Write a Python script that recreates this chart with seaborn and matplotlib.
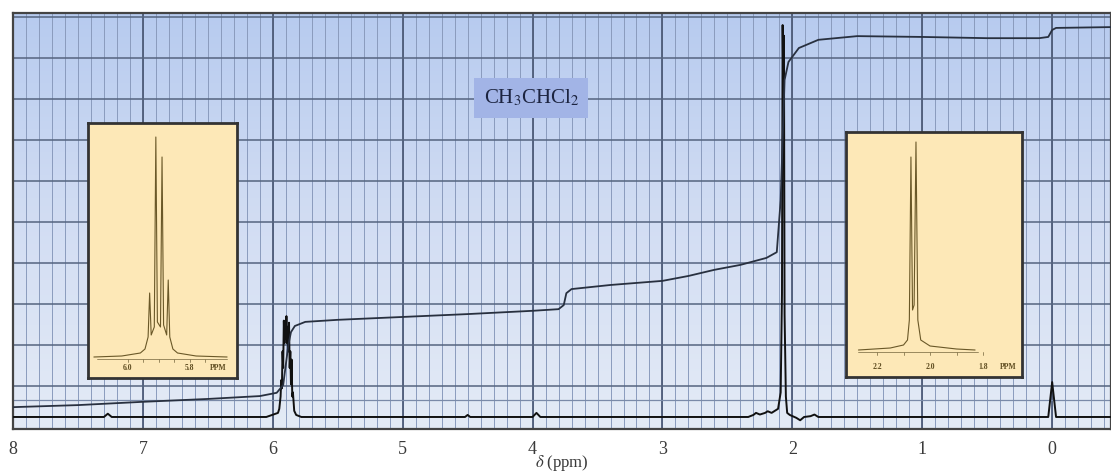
import numpy as np
import pandas as pd
import matplotlib.pyplot as plt
import seaborn as sns
from matplotlib.colors import LinearSegmentedColormap

# main spectrum trace (ppm, intensity in grid units)
spec_ppm = [8.0, 7.30, 7.27, 7.24, 6.05, 5.96, 5.95, 5.94, 5.935, 5.93, 5.925, 5.92,
            5.915, 5.91, 5.905, 5.90, 5.895, 5.89, 5.885, 5.88, 5.875, 5.87, 5.865,
            5.86, 5.855, 5.85, 5.845, 5.835, 5.82, 5.78, 4.52, 4.50, 4.48, 4.00, 3.97,
            3.94, 2.34, 2.30, 2.28, 2.25, 2.21, 2.19, 2.16, 2.11, 2.09, 2.08, 2.075,
            2.07, 2.065, 2.06, 2.05, 2.04, 2.02, 1.97, 1.94, 1.91, 1.86, 1.83, 1.80,
            0.03, 0.0, -0.03, -0.45]
spec_int = [0, 0, 0.08, 0, 0, 0.1, 0.2, 0.5, 0.9, 0.7, 1.6, 1.2,
            2.35, 1.8, 2.3, 1.9, 2.46, 1.8, 2.2, 1.6, 2.3, 1.2, 1.6,
            0.8, 1.4, 0.5, 0.6, 0.15, 0.05, 0, 0, 0.05, 0, 0, 0.1,
            0, 0, 0.05, 0.1, 0.06, 0.1, 0.14, 0.1, 0.2, 0.6, 3.0, 9.56,
            8.0, 9.3, 2.5, 0.5, 0.1, 0.05, -0.02, -0.08, 0, 0.02, 0.06, 0,
            0, 0.85, 0, 0]

# integral curve
integ_ppm = [8.0, 7.5, 7.0, 6.5, 6.1, 5.97, 5.92, 5.90, 5.88, 5.86, 5.83, 5.75, 5.5,
             5.0, 4.5, 4.0, 3.8, 3.76, 3.74, 3.70, 3.4, 3.0, 2.8, 2.6, 2.4, 2.2,
             2.12, 2.09, 2.07, 2.06, 2.03, 1.95, 1.8, 1.5, 1.0, 0.5, 0.1, 0.03,
             0.0, -0.03, -0.45]
integ_val = [0.24, 0.29, 0.37, 0.44, 0.51, 0.59, 0.78, 1.27, 1.76, 2.07, 2.22, 2.32, 2.37,
             2.44, 2.51, 2.59, 2.63, 2.73, 3.02, 3.12, 3.22, 3.32, 3.44, 3.59, 3.71, 3.88,
             4.02, 5.29, 7.24, 8.22, 8.66, 9.0, 9.2, 9.29, 9.27, 9.24, 9.24, 9.27,
             9.44, 9.49, 9.51]

# expanded quartet (inset left)
q_ppm = [6.11, 6.02, 5.96, 5.945, 5.935, 5.93, 5.925, 5.915, 5.91, 5.905, 5.895, 5.89,
         5.885, 5.875, 5.87, 5.865, 5.855, 5.84, 5.78, 5.68]
q_int = [0, 1, 4, 8, 20, 64, 22, 30, 220, 35, 30, 200, 32, 22, 77, 20, 8, 4, 1, 0]
q_ticks = [6.0, 5.95, 5.9, 5.85, 5.8, 5.75]
q_labels = ["6.0", "5.8", "PPM"]
q_label_pos = [6.0, 5.8, 5.71]

# expanded doublet (inset right)
d_ppm = [2.27, 2.15, 2.10, 2.085, 2.078, 2.072, 2.066, 2.060, 2.053, 2.046, 2.035,
         2.0, 1.90, 1.83]
d_int = [0, 2, 5, 10, 30, 193, 40, 45, 208, 30, 10, 4, 1, 0]
d_ticks = [2.2, 2.1, 2.0, 1.9, 1.8]
d_labels = ["2.2", "2.0", "1.8", "PPM"]
d_label_pos = [2.2, 2.0, 1.8, 1.706]

x_ticks = [8, 7, 6, 5, 4, 3, 2, 1, 0]

sns.set_style("white")
plt.rcParams['font.family'] = ['Liberation Serif', 'DejaVu Serif']
plt.rcParams['mathtext.fontset'] = 'stix'

fig = plt.figure(figsize=(11.11, 4.74), dpi=100)
ax = fig.add_axes([13 / 1111, 45 / 474, 1098 / 1111, 416 / 474])

# graph-paper background
grad = np.linspace(0, 1, 256).reshape(-1, 1)
bg = LinearSegmentedColormap.from_list("bg", ["#b7cbef", "#d2ddf3", "#e4ebf6"])
ax.imshow(grad, cmap=bg, aspect="auto", extent=[0, 1, 0, 1],
          transform=ax.transAxes, zorder=0)

ax.set_xlim(8, -0.453)
ax.set_ylim(-0.293, 9.854)

for v in np.arange(-0.4, 8.01, 0.1):
    ax.axvline(v, color="#8a9bbd", lw=0.7, zorder=1)
for v in x_ticks:
    ax.axvline(v, color="#4d5b78", lw=1.3, zorder=1)
for h in np.arange(0.75, 9.8, 1.0):
    ax.axhline(h, color="#55647f", lw=1.1, zorder=1)
ax.axhline(0.41, color="#7a8aa8", lw=0.9, zorder=1)

spec = pd.DataFrame({"ppm": spec_ppm, "intensity": spec_int})
integ = pd.DataFrame({"ppm": integ_ppm, "integral": integ_val})
sns.lineplot(data=spec, x="ppm", y="intensity", sort=False, estimator=None,
             color="#111111", lw=1.4, ax=ax, zorder=3)
sns.lineplot(data=integ, x="ppm", y="integral", sort=False, estimator=None,
             color="#28303f", lw=1.3, ax=ax, zorder=3)

ax.set_xticks(x_ticks)
ax.set_xticklabels([str(t) for t in x_ticks], fontsize=13, color="#3a3a3a")
ax.tick_params(axis="x", length=0, pad=9)
ax.set_yticks([])
ax.set_xlabel("")
ax.set_ylabel("")
for s in ax.spines.values():
    s.set_color("#444444")
    s.set_linewidth(1.6)

ax.text(4.01, 7.78, r"CH$_3$CHCl$_2$", fontsize=15, color="#1c2440",
        ha="center", va="center", zorder=5,
        bbox=dict(boxstyle="square,pad=0.45", fc="#a2b4e6", ec="none"))

fig.text(562 / 1111, 1 / 474, r"$\delta$ (ppm)", fontsize=12, color="#3a3a3a",
         ha="center", va="bottom")


def draw_inset(rect, xlim, ylim, ppm, inten, ticks, labels, label_pos, base_rng, label_y):
    ins = fig.add_axes(rect)
    ins.set_facecolor("#fde8b7")
    df = pd.DataFrame({"ppm": ppm, "intensity": inten})
    sns.lineplot(data=df, x="ppm", y="intensity", sort=False, estimator=None,
                 color="#6a5828", lw=0.8, ax=ins)
    ins.plot(base_rng, [-2, -2], color="#8a7a50", lw=0.6)
    for t in ticks:
        ins.plot([t, t], [-2, -5], color="#8a7a50", lw=0.6)
    for lab, pos in zip(labels, label_pos):
        ins.text(pos, label_y, lab, fontsize=5.5, fontweight="bold",
                 color="#5e4c20", ha="center", va="center")
    ins.set_xlim(*xlim)
    ins.set_ylim(*ylim)
    ins.set_xticks([])
    ins.set_yticks([])
    ins.set_xlabel("")
    ins.set_ylabel("")
    for s in ins.spines.values():
        s.set_color("#333333")
        s.set_linewidth(2)
    return ins


draw_inset([88 / 1111, 96 / 474, 149 / 1111, 255 / 474], (6.129, 5.648), (-21, 234),
           q_ppm, q_int, q_ticks, q_labels, q_label_pos, [6.10, 5.68], -11)
draw_inset([846 / 1111, 97 / 474, 176 / 1111, 245 / 474], (2.317, 1.653), (-27, 218),
           d_ppm, d_int, d_ticks, d_labels, d_label_pos, [2.27, 1.82], -17)

fig.savefig("out.png", dpi=100)
